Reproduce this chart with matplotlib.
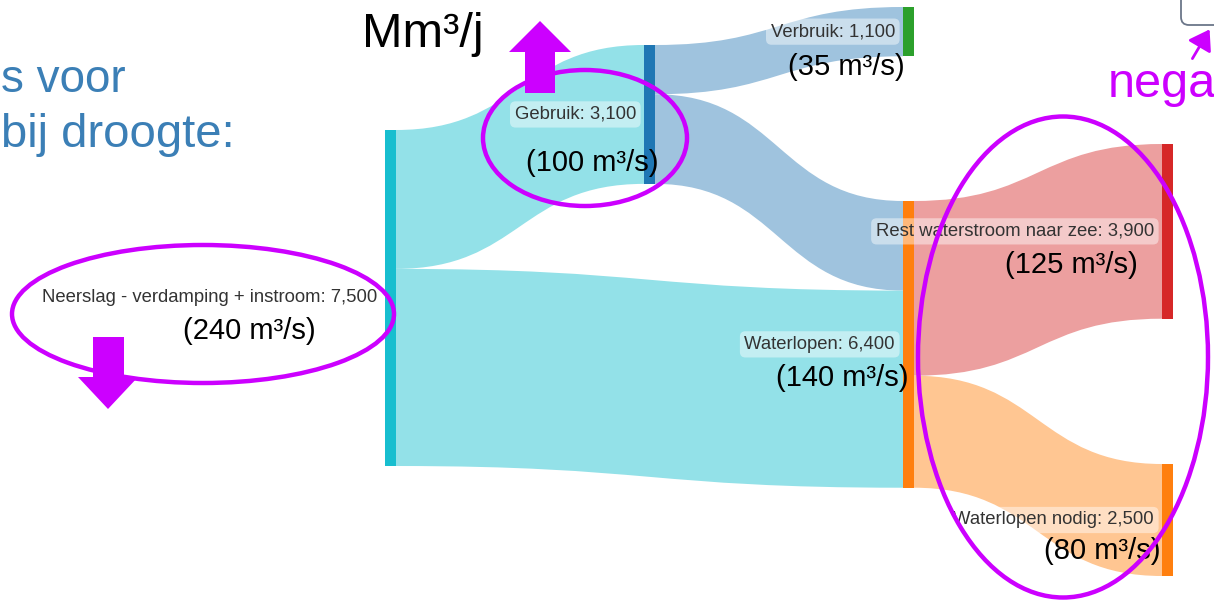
import matplotlib
matplotlib.use("Agg")
import matplotlib.pyplot as plt
from matplotlib.path import Path
from matplotlib.patches import PathPatch, Rectangle, Ellipse, Polygon, FancyBboxPatch, FancyArrowPatch

plt.rcParams['font.family'] = ['Liberation Sans', 'DejaVu Sans']

# ---- data ----
node_names = ["Neerslag - verdamping + instroom", "Gebruik", "Verbruik",
              "Waterlopen", "Rest waterstroom naar zee", "Waterlopen nodig"]
node_values = [7500, 3100, 1100, 6400, 3900, 2500]
link_source = [0, 1, 1, 0, 3, 3]
link_target = [1, 2, 3, 3, 4, 5]
link_values = [3100, 1100, 2000, 4400, 3900, 2500]
flow_labels = ["(240 m³/s)", "(100 m³/s)", "(35 m³/s)",
               "(140 m³/s)", "(125 m³/s)", "(80 m³/s)"]

# ---- layout / style ----
node_x = [385, 644, 903, 903, 1162, 1162]
node_top = [130, 45, 7, 201, 144, 464]
node_w = 11
scale = 336 / 7500.0
node_colors = ["#17becf", "#1f77b4", "#2ca02c", "#ff7f0e", "#d62728", "#ff7f0e"]
link_colors = ["#93e1e8", "#9fc3de", "#9fc3de", "#93e1e8", "#ec9f9f", "#ffc692"]
flow_pos = [(316, 331), (658, 163), (905, 67), (908, 378), (1138, 265), (1160, 551)]
MAG = "#cc00ff"

fig = plt.figure(figsize=(12.14, 6.0), dpi=100)
ax = fig.add_axes([0, 0, 1, 1])
ax.set_xlim(0, 1214)
ax.set_ylim(600, 0)
ax.axis('off')

# links
out_off = [0.0] * len(node_values)
in_off = [0.0] * len(node_values)
for s, t, v, c in zip(link_source, link_target, link_values, link_colors):
    h = v * scale
    x0 = node_x[s] + node_w
    x1 = node_x[t]
    y0 = node_top[s] + out_off[s]
    y1 = node_top[t] + in_off[t]
    out_off[s] += h
    in_off[t] += h
    xm = (x0 + x1) / 2
    verts = [(x0, y0), (xm, y0), (xm, y1), (x1, y1),
             (x1, y1 + h), (xm, y1 + h), (xm, y0 + h), (x0, y0 + h), (x0, y0)]
    codes = [Path.MOVETO, Path.CURVE4, Path.CURVE4, Path.CURVE4,
             Path.LINETO, Path.CURVE4, Path.CURVE4, Path.CURVE4, Path.CLOSEPOLY]
    ax.add_patch(PathPatch(Path(verts, codes), fc=c, ec='none', zorder=1))

# nodes + labels
for i, (name, val) in enumerate(zip(node_names, node_values)):
    h = val * scale
    ax.add_patch(Rectangle((node_x[i], node_top[i]), node_w, h,
                           fc=node_colors[i], ec='none', zorder=2))
    ax.text(node_x[i] - 8, node_top[i] + h / 2, f"{name}: {val:,}",
            ha='right', va='center', fontsize=13.3, color='#333333', zorder=4,
            bbox=dict(boxstyle='round,pad=0.25,rounding_size=0.3',
                      fc='white', ec='none', alpha=0.45))

# flow annotations
for lab, (x, y) in zip(flow_labels, flow_pos):
    ax.text(x, y, lab, ha='right', va='center', fontsize=21, color='black', zorder=6)

# titles / overlay text
ax.text(362, 47, "Mm³/j", ha='left', va='baseline', fontsize=35, color='black')
ax.text(1, 92, "s voor", ha='left', va='baseline', fontsize=33, color='#3b7fb6')
ax.text(1, 147, "bij droogte:", ha='left', va='baseline', fontsize=34, color='#3b7fb6')
ax.text(1108, 97, "nega", ha='left', va='baseline', fontsize=35, color=MAG)

# ellipses
for (cx, cy, w, h) in [(203, 314, 382, 138), (585, 138, 204, 136), (1063, 357, 290, 481)]:
    ax.add_patch(Ellipse((cx, cy), w, h, fill=False, ec=MAG, lw=3.2, zorder=7))

# block arrows
ax.add_patch(Polygon([(525, 93), (525, 52), (509, 52), (540, 21), (571, 52),
                      (555, 52), (555, 93)], closed=True, fc=MAG, ec='none', zorder=8))
ax.add_patch(Polygon([(93, 337), (124, 337), (124, 377), (138, 377), (108, 409),
                      (78, 377), (93, 377)], closed=True, fc=MAG, ec='none', zorder=8))

# top-right box and thin arrow
ax.add_patch(FancyBboxPatch((1181, -30), 60, 55, boxstyle='round,pad=0,rounding_size=8',
                            fc='white', ec='#6b7689', lw=1.3, zorder=8))
ax.add_patch(FancyArrowPatch((1191, 61), (1211, 27), arrowstyle='-|>,head_length=6,head_width=4',
                             color=MAG, lw=2, mutation_scale=2, zorder=9))

fig.savefig("out.png", dpi=100)
